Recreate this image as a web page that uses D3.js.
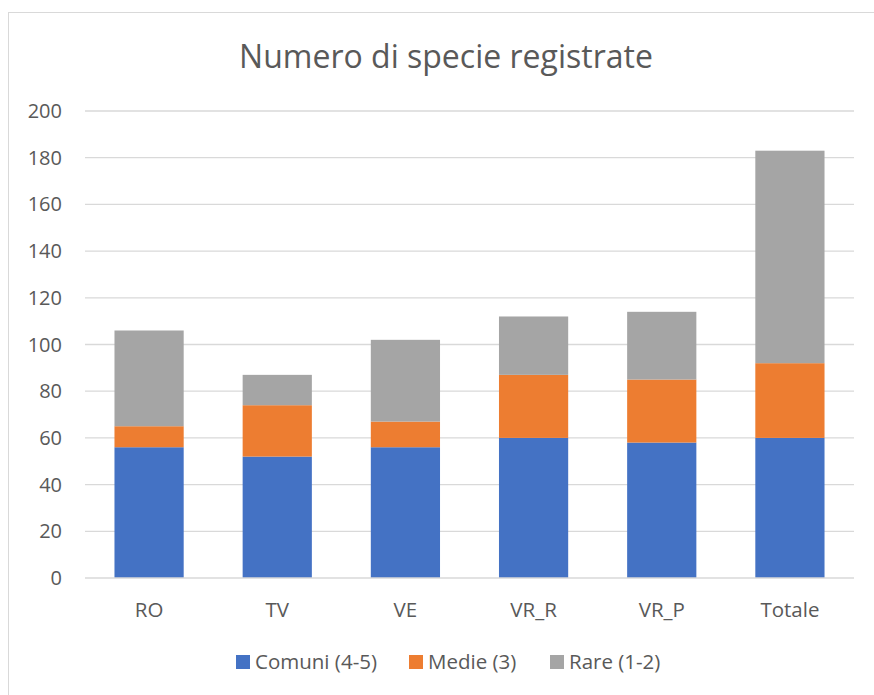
<!DOCTYPE html>
<html>
<head>
<meta charset="utf-8">
<script src="https://cdn.jsdelivr.net/npm/d3@7"></script>
<style>
    body { margin: 0; background: #fff; }
    text { font-family: "Open Sans", sans-serif; fill: #595959; }
</style>
</head>
<body>
<svg id="chart" width="874" height="695"></svg>
<script>
// dati
var categories = ["RO", "TV", "VE", "VR_R", "VR_P", "Totale"];
var seriesNames = ["Comuni (4-5)", "Medie (3)", "Rare (1-2)"];
var comuni = [56, 52, 56, 60, 58, 60];
var medie = [9, 22, 11, 27, 27, 32];
var rare = [41, 13, 35, 25, 29, 91];
var yTicks = [0, 20, 40, 60, 80, 100, 120, 140, 160, 180, 200];
var colors = ["#4472c4", "#ed7d31", "#a5a5a5"];

var svg = d3.select("#chart");

// cornice del grafico
svg.append("rect")
    .attr("x", 8.5).attr("y", 12.5)
    .attr("width", 880).attr("height", 700)
    .attr("fill", "#fff")
    .attr("stroke", "#d9d9d9");

var margin = {left: 85, right: 854, top: 111, bottom: 578};

var x = d3.scaleBand()
    .domain(categories)
    .range([margin.left, margin.right])
    .paddingInner(0.46)
    .paddingOuter(0.23);

var y = d3.scaleLinear()
    .domain([0, 200])
    .range([margin.bottom, margin.top]);

// griglia
svg.append("g")
    .selectAll("line")
    .data(yTicks.slice(1))
    .enter().append("line")
    .attr("x1", margin.left).attr("x2", margin.right)
    .attr("y1", function(d) { return y(d); })
    .attr("y2", function(d) { return y(d); })
    .attr("stroke", "#d9d9d9")
    .attr("stroke-width", 1.3);

// etichette asse y
svg.append("g")
    .selectAll("text")
    .data(yTicks)
    .enter().append("text")
    .attr("x", 62)
    .attr("y", function(d) { return y(d); })
    .attr("dy", "0.35em")
    .attr("text-anchor", "end")
    .style("font-size", "20px")
    .text(function(d) { return d; });

// barre impilate
var rows = categories.map(function(c, i) {
    return {cat: c, s0: comuni[i], s1: medie[i], s2: rare[i]};
});
var stack = d3.stack().keys(["s0", "s1", "s2"]);
var layers = stack(rows);

svg.append("g")
    .selectAll("g")
    .data(layers)
    .enter().append("g")
    .attr("fill", function(d, i) { return colors[i]; })
    .selectAll("rect")
    .data(function(d) { return d; })
    .enter().append("rect")
    .attr("x", function(d) { return x(d.data.cat); })
    .attr("width", x.bandwidth())
    .attr("y", function(d) { return y(d[1]); })
    .attr("height", function(d) { return y(d[0]) - y(d[1]); });

// asse x
svg.append("line")
    .attr("x1", margin.left).attr("x2", margin.right)
    .attr("y1", y(0)).attr("y2", y(0))
    .attr("stroke", "#d9d9d9")
    .attr("stroke-width", 1.3);

svg.append("g")
    .selectAll("text")
    .data(categories)
    .enter().append("text")
    .attr("x", function(d) { return x(d) + x.bandwidth() / 2; })
    .attr("y", 610)
    .attr("dy", "0.35em")
    .attr("text-anchor", "middle")
    .style("font-size", "20.5px")
    .text(function(d) { return d; });

// titolo
svg.append("text")
    .attr("x", 446)
    .attr("y", 57)
    .attr("dy", "0.35em")
    .attr("text-anchor", "middle")
    .style("font-size", "32px")
    .text("Numero di specie registrate");

// legenda
var legendX = [236, 409, 550];
var legend = svg.append("g")
    .selectAll("g")
    .data(seriesNames)
    .enter().append("g")
    .attr("transform", function(d, i) { return "translate(" + legendX[i] + ",662)"; });

legend.append("rect")
    .attr("x", 0).attr("y", -7)
    .attr("width", 14).attr("height", 14)
    .attr("fill", function(d, i) { return colors[i]; });

legend.append("text")
    .attr("x", 19)
    .attr("y", 0)
    .attr("dy", "0.35em")
    .style("font-size", "20.5px")
    .text(function(d) { return d; });
</script>
</body>
</html>
